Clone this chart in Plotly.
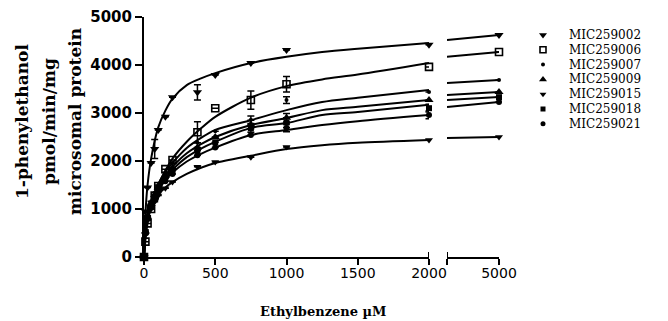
import plotly.graph_objects as go

# Substrate concentrations (uM) and measured rates (pmol/min/mg)
conc = [0, 10, 25, 50, 75, 100, 150, 200, 375, 500, 750, 1000, 2000, 5000]

mic259002 = [0, 950, 1450, 1960, 2250, 2645, 2920, 3330, 3430, 3790, 4040, 4310, 4420, 4625]
mic259002_err = [0, 0, 0, 0, 200, 0, 0, 0, 160, 0, 0, 0, 0, 0]
mic259006 = [0, 320, 700, 1000, 1280, 1480, 1830, 2020, 2600, 3100, 3270, 3600, 3960, 4270]
mic259006_err = [0, 0, 0, 0, 0, 0, 0, 0, 220, 0, 190, 160, 0, 0]
mic259007 = [0, 560, 860, 1160, 1340, 1500, 1760, 1960, 2380, 2620, 2860, 3270, 3440, 3690]
mic259007_err = [0, 0, 0, 0, 0, 0, 0, 0, 0, 0, 80, 70, 0, 0]
mic259009 = [0, 530, 840, 1110, 1290, 1450, 1690, 1860, 2280, 2500, 2760, 2900, 3270, 3440]
mic259009_err = [0, 0, 0, 0, 0, 0, 0, 0, 0, 0, 90, 90, 0, 0]
mic259015 = [0, 480, 770, 1000, 1150, 1280, 1430, 1560, 1880, 1980, 2080, 2290, 2440, 2500]
mic259015_err = [0, 0, 0, 0, 0, 0, 0, 0, 0, 0, 0, 0, 0, 0]
mic259018 = [0, 510, 810, 1090, 1250, 1410, 1640, 1800, 2220, 2390, 2680, 2800, 3100, 3330]
mic259018_err = [0, 0, 0, 0, 0, 0, 0, 0, 0, 0, 80, 100, 80, 0]
mic259021 = [0, 490, 790, 1060, 1210, 1360, 1580, 1730, 2120, 2280, 2540, 2690, 2960, 3230]
mic259021_err = [0, 0, 0, 0, 0, 0, 0, 0, 0, 0, 0, 80, 80, 0]

# Fitted saturation curves, sampled along the concentration axis
fit_x = [0, 10, 25, 50, 100, 150, 200, 300, 400, 500, 750, 1000, 1250, 1500, 2000, 3000, 5000]
fit_259002 = [0, 900, 1500, 2050, 2700, 3050, 3300, 3580, 3720, 3830, 4040, 4170, 4270, 4340, 4460, 4520, 4625]
fit_259006 = [0, 350, 700, 1050, 1500, 1800, 2050, 2400, 2680, 2920, 3320, 3560, 3700, 3800, 4040, 4170, 4270]
fit_259007 = [0, 560, 870, 1170, 1520, 1770, 1960, 2270, 2480, 2650, 2850, 3060, 3230, 3320, 3480, 3625, 3690]
fit_259009 = [0, 540, 850, 1130, 1460, 1700, 1880, 2160, 2350, 2500, 2750, 2895, 3060, 3130, 3270, 3375, 3440]
fit_259015 = [0, 480, 780, 1030, 1300, 1450, 1560, 1730, 1860, 1960, 2110, 2250, 2330, 2380, 2437, 2480, 2500]
fit_259018 = [0, 520, 820, 1100, 1420, 1650, 1820, 2080, 2260, 2400, 2690, 2790, 2958, 3020, 3170, 3270, 3333]
fit_259021 = [0, 500, 800, 1080, 1380, 1600, 1760, 1990, 2150, 2280, 2541, 2645, 2750, 2830, 2958, 3125, 3230]

series_names = ["MIC259002", "MIC259006", "MIC259007", "MIC259009",
                "MIC259015", "MIC259018", "MIC259021"]
series_values = [mic259002, mic259006, mic259007, mic259009,
                 mic259015, mic259018, mic259021]
series_errors = [mic259002_err, mic259006_err, mic259007_err, mic259009_err,
                 mic259015_err, mic259018_err, mic259021_err]
series_fits = [fit_259002, fit_259006, fit_259007, fit_259009,
               fit_259015, fit_259018, fit_259021]

x_ticks = [0, 500, 1000, 1500, 2000]
y_ticks = [0, 1000, 2000, 3000, 4000, 5000]
break_start, break_end = 2000, 3000   # axis is interrupted between these

W, H = 668, 321


def px(x):
    return x / W


def py(y):
    return 1 - y / H


symbols = [
    dict(symbol="triangle-down", size=8),
    dict(symbol="square-open", size=7, line=dict(width=1.6, color="black")),
    dict(symbol="circle", size=4),
    dict(symbol="triangle-up", size=8),
    dict(symbol="triangle-down", size=7),
    dict(symbol="square", size=6),
    dict(symbol="circle", size=6),
]

fig = go.Figure()

for name, vals, errs, fit, sym in zip(series_names, series_values, series_errors,
                                      series_fits, symbols):
    for lo, hi, xa in [(0, break_start, "x"), (break_end, 5000, "x2")]:
        fx = [x for x in fit_x if lo <= x <= hi]
        fy = [y for x, y in zip(fit_x, fit) if lo <= x <= hi]
        fig.add_trace(go.Scatter(
            x=fx, y=fy, mode="lines", xaxis=xa, yaxis="y",
            line=dict(color="black", width=2, shape="spline", smoothing=0.8),
            showlegend=False, hoverinfo="skip"))
        dx = [x for x in conc if lo <= x <= hi]
        dy = [y for x, y in zip(conc, vals) if lo <= x <= hi]
        de = [e for x, e in zip(conc, errs) if lo <= x <= hi]
        fig.add_trace(go.Scatter(
            x=dx, y=dy, mode="markers", xaxis=xa, yaxis="y",
            marker=dict(color="black", **sym),
            error_y=dict(type="data", array=de, visible=True, color="black",
                         thickness=1.5, width=3.5),
            cliponaxis=False, showlegend=False, name=name))

# Key drawn in its own small panel to the right of the plot
for i, (name, sym) in enumerate(zip(series_names, symbols)):
    s = dict(sym)
    s["size"] = max(s["size"] - 1, 4)
    fig.add_trace(go.Scatter(
        x=[13], y=[i], mode="markers", xaxis="x3", yaxis="y3",
        marker=dict(color="black", **s), showlegend=False, hoverinfo="skip"))

axis_common = dict(showline=True, linewidth=2, linecolor="black", showgrid=False,
                   zeroline=False, ticks="outside", tickwidth=2, tickcolor="black",
                   automargin=False)

fig.update_layout(
    width=W, height=H,
    margin=dict(l=0, r=0, t=0, b=0),
    plot_bgcolor="white", paper_bgcolor="white",
    xaxis=dict(domain=[px(144), px(429)], range=[0, break_start], anchor="y",
               tickvals=x_ticks, ticklen=6, ticklabelstandoff=-4,
               tickfont=dict(family="DejaVu Sans", size=14, color="black"),
               **axis_common),
    xaxis2=dict(domain=[px(447), px(499)], range=[break_end, 5000], anchor="y",
                tickvals=[break_end, 5000], ticktext=["", "5000"], ticklen=6,
                ticklabelstandoff=-4,
                tickfont=dict(family="DejaVu Sans", size=14, color="black"),
                **axis_common),
    yaxis=dict(domain=[py(257), py(17)], range=[0, 5000], anchor="x",
               tickvals=y_ticks, ticklen=7,
               tickfont=dict(family="DejaVu Sans", size=15, color="black",
                             weight="bold"),
               **axis_common),
    xaxis3=dict(domain=[px(530), 1], range=[0, 138], visible=False, anchor="y3"),
    yaxis3=dict(domain=[py(140), py(20)], range=[(140 - 35) / 14.8, (20 - 35) / 14.8],
                visible=False, anchor="x3"),
)

# Key labels
for i, name in enumerate(series_names):
    fig.add_annotation(x=37, y=i, xref="x3", yref="y3", text=name, showarrow=False,
                       xanchor="left", yanchor="middle",
                       font=dict(family="DejaVu Serif", size=12, color="black"))

# Axis titles
fig.add_annotation(x=px(323), y=py(311), xref="paper", yref="paper",
                   text="Ethylbenzene \u00b5M", showarrow=False,
                   xanchor="center", yanchor="middle",
                   font=dict(family="DejaVu Serif", size=13, color="black",
                             weight="bold"))
for xpix, line in zip([22, 49, 75], ["1-phenylethanol", "pmol/min/mg", "microsomal protein"]):
    fig.add_annotation(x=px(xpix), y=py(122), xref="paper", yref="paper",
                       text=line, showarrow=False, textangle=-90,
                       xanchor="center", yanchor="middle",
                       font=dict(family="DejaVu Serif", size=17, color="black",
                                 weight="bold"))

# Break marks at the interrupted ends of the x axis
for xa, xv in [("x", break_start), ("x2", break_end)]:
    fig.add_shape(type="line", xref=xa, yref="paper", x0=xv, x1=xv,
                  y0=py(262), y1=py(252), line=dict(color="black", width=2))

fig.write_html("out.html")
